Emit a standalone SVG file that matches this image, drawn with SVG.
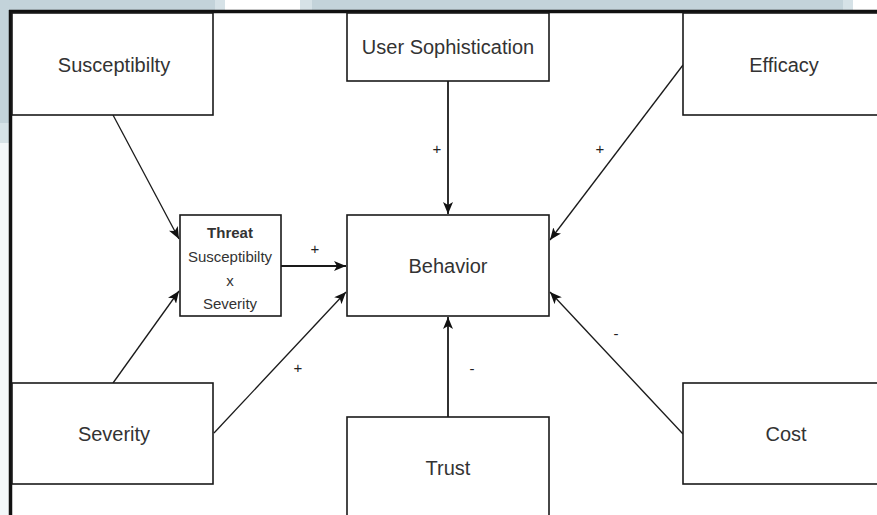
<svg xmlns="http://www.w3.org/2000/svg" width="877" height="515" viewBox="0 0 877 515">
  <defs>
    <marker id="arrow" viewBox="0 0 12 10" refX="12" refY="5" markerWidth="12" markerHeight="10" markerUnits="userSpaceOnUse" orient="auto">
      <path d="M0,0 L12,5 L0,10 L3,5 Z" fill="#111"/>
    </marker>
    <style>
      .box { fill: #ffffff; stroke: #1a1a1a; stroke-width: 1.6; }
      .lbl { font-family: "Liberation Sans", Arial, sans-serif; font-size: 20px; fill: #333; text-anchor: middle; dominant-baseline: central; }
      .small { font-family: "Liberation Sans", Arial, sans-serif; font-size: 15px; fill: #333; text-anchor: middle; dominant-baseline: central; }
      .sign { font-family: "Liberation Sans", Arial, sans-serif; font-size: 15px; fill: #222; text-anchor: middle; dominant-baseline: central; }
      .edge { fill: none; stroke: #1a1a1a; stroke-width: 1.3; marker-end: url(#arrow); }
      .edge.straight { stroke-width: 1.8; }
    </style>
  </defs>

  <!-- page background and surrounding window chrome -->
  <rect x="0" y="0" width="877" height="515" fill="#ffffff"/>
  <rect x="0" y="0" width="215" height="11" fill="#c3d3da"/>
  <rect x="215" y="0" width="10" height="11" fill="#d6e2e7"/>
  <rect x="300" y="0" width="12" height="11" fill="#d6e2e7"/>
  <rect x="312" y="0" width="531" height="11" fill="#c3d3da"/>
  <rect x="843" y="0" width="10" height="11" fill="#d6e2e7"/>
  <rect x="0" y="0" width="10" height="123" fill="#c3d3da"/>
  <rect x="0" y="123" width="10" height="20" fill="#d6e2e7"/>
  <rect x="0" y="143" width="10" height="372" fill="#f3f7f9"/>
  <line x1="9" y1="11.5" x2="877" y2="11.5" stroke="#111" stroke-width="3.5"/>
  <line x1="10.5" y1="10" x2="10.5" y2="515" stroke="#111" stroke-width="3.5"/>

  <!-- connectors -->
  <g id="connectors">
    <line class="edge" x1="113" y1="115" x2="179" y2="239"/>
    <line class="edge" x1="113" y1="383" x2="179" y2="291"/>
    <line class="edge straight" x1="281" y1="266" x2="346" y2="266"/>
    <line class="edge" x1="214" y1="433" x2="346" y2="292"/>
    <line class="edge straight" x1="448" y1="81" x2="448" y2="214"/>
    <line class="edge" x1="683" y1="65" x2="550" y2="240"/>
    <line class="edge" x1="683" y1="434" x2="550" y2="292"/>
    <line class="edge straight" x1="448" y1="417" x2="448" y2="317"/>
    <text class="sign" x="315" y="248">+</text>
    <text class="sign" x="298" y="367">+</text>
    <text class="sign" x="437" y="148">+</text>
    <text class="sign" x="600" y="148">+</text>
    <text class="sign" x="616" y="333">-</text>
    <text class="sign" x="472" y="368">-</text>
  </g>

  <g id="susceptibility">
    <rect class="box" x="12" y="13" width="201" height="102"/>
    <text class="lbl" x="114" y="65">Susceptibilty</text>
  </g>

  <g id="user-sophistication">
    <rect class="box" x="347" y="13" width="202" height="68"/>
    <text class="lbl" x="448" y="47">User Sophistication</text>
  </g>

  <g id="efficacy">
    <rect class="box" x="683" y="13" width="202" height="102"/>
    <text class="lbl" x="784" y="65">Efficacy</text>
  </g>

  <g id="threat">
    <rect class="box" x="180" y="215" width="101" height="101"/>
    <text class="small" x="230" y="232" font-weight="bold">Threat</text>
    <text class="small" x="230" y="256">Susceptibilty</text>
    <text class="small" x="230" y="280">x</text>
    <text class="small" x="230" y="303">Severity</text>
  </g>

  <g id="behavior">
    <rect class="box" x="347" y="215" width="202" height="101"/>
    <text class="lbl" x="448" y="266">Behavior</text>
  </g>

  <g id="severity">
    <rect class="box" x="12" y="383" width="201" height="101"/>
    <text class="lbl" x="114" y="434">Severity</text>
  </g>

  <g id="trust">
    <rect class="box" x="347" y="417" width="202" height="102"/>
    <text class="lbl" x="448" y="468">Trust</text>
  </g>

  <g id="cost">
    <rect class="box" x="683" y="383" width="202" height="101"/>
    <text class="lbl" x="786" y="434">Cost</text>
  </g>
</svg>
